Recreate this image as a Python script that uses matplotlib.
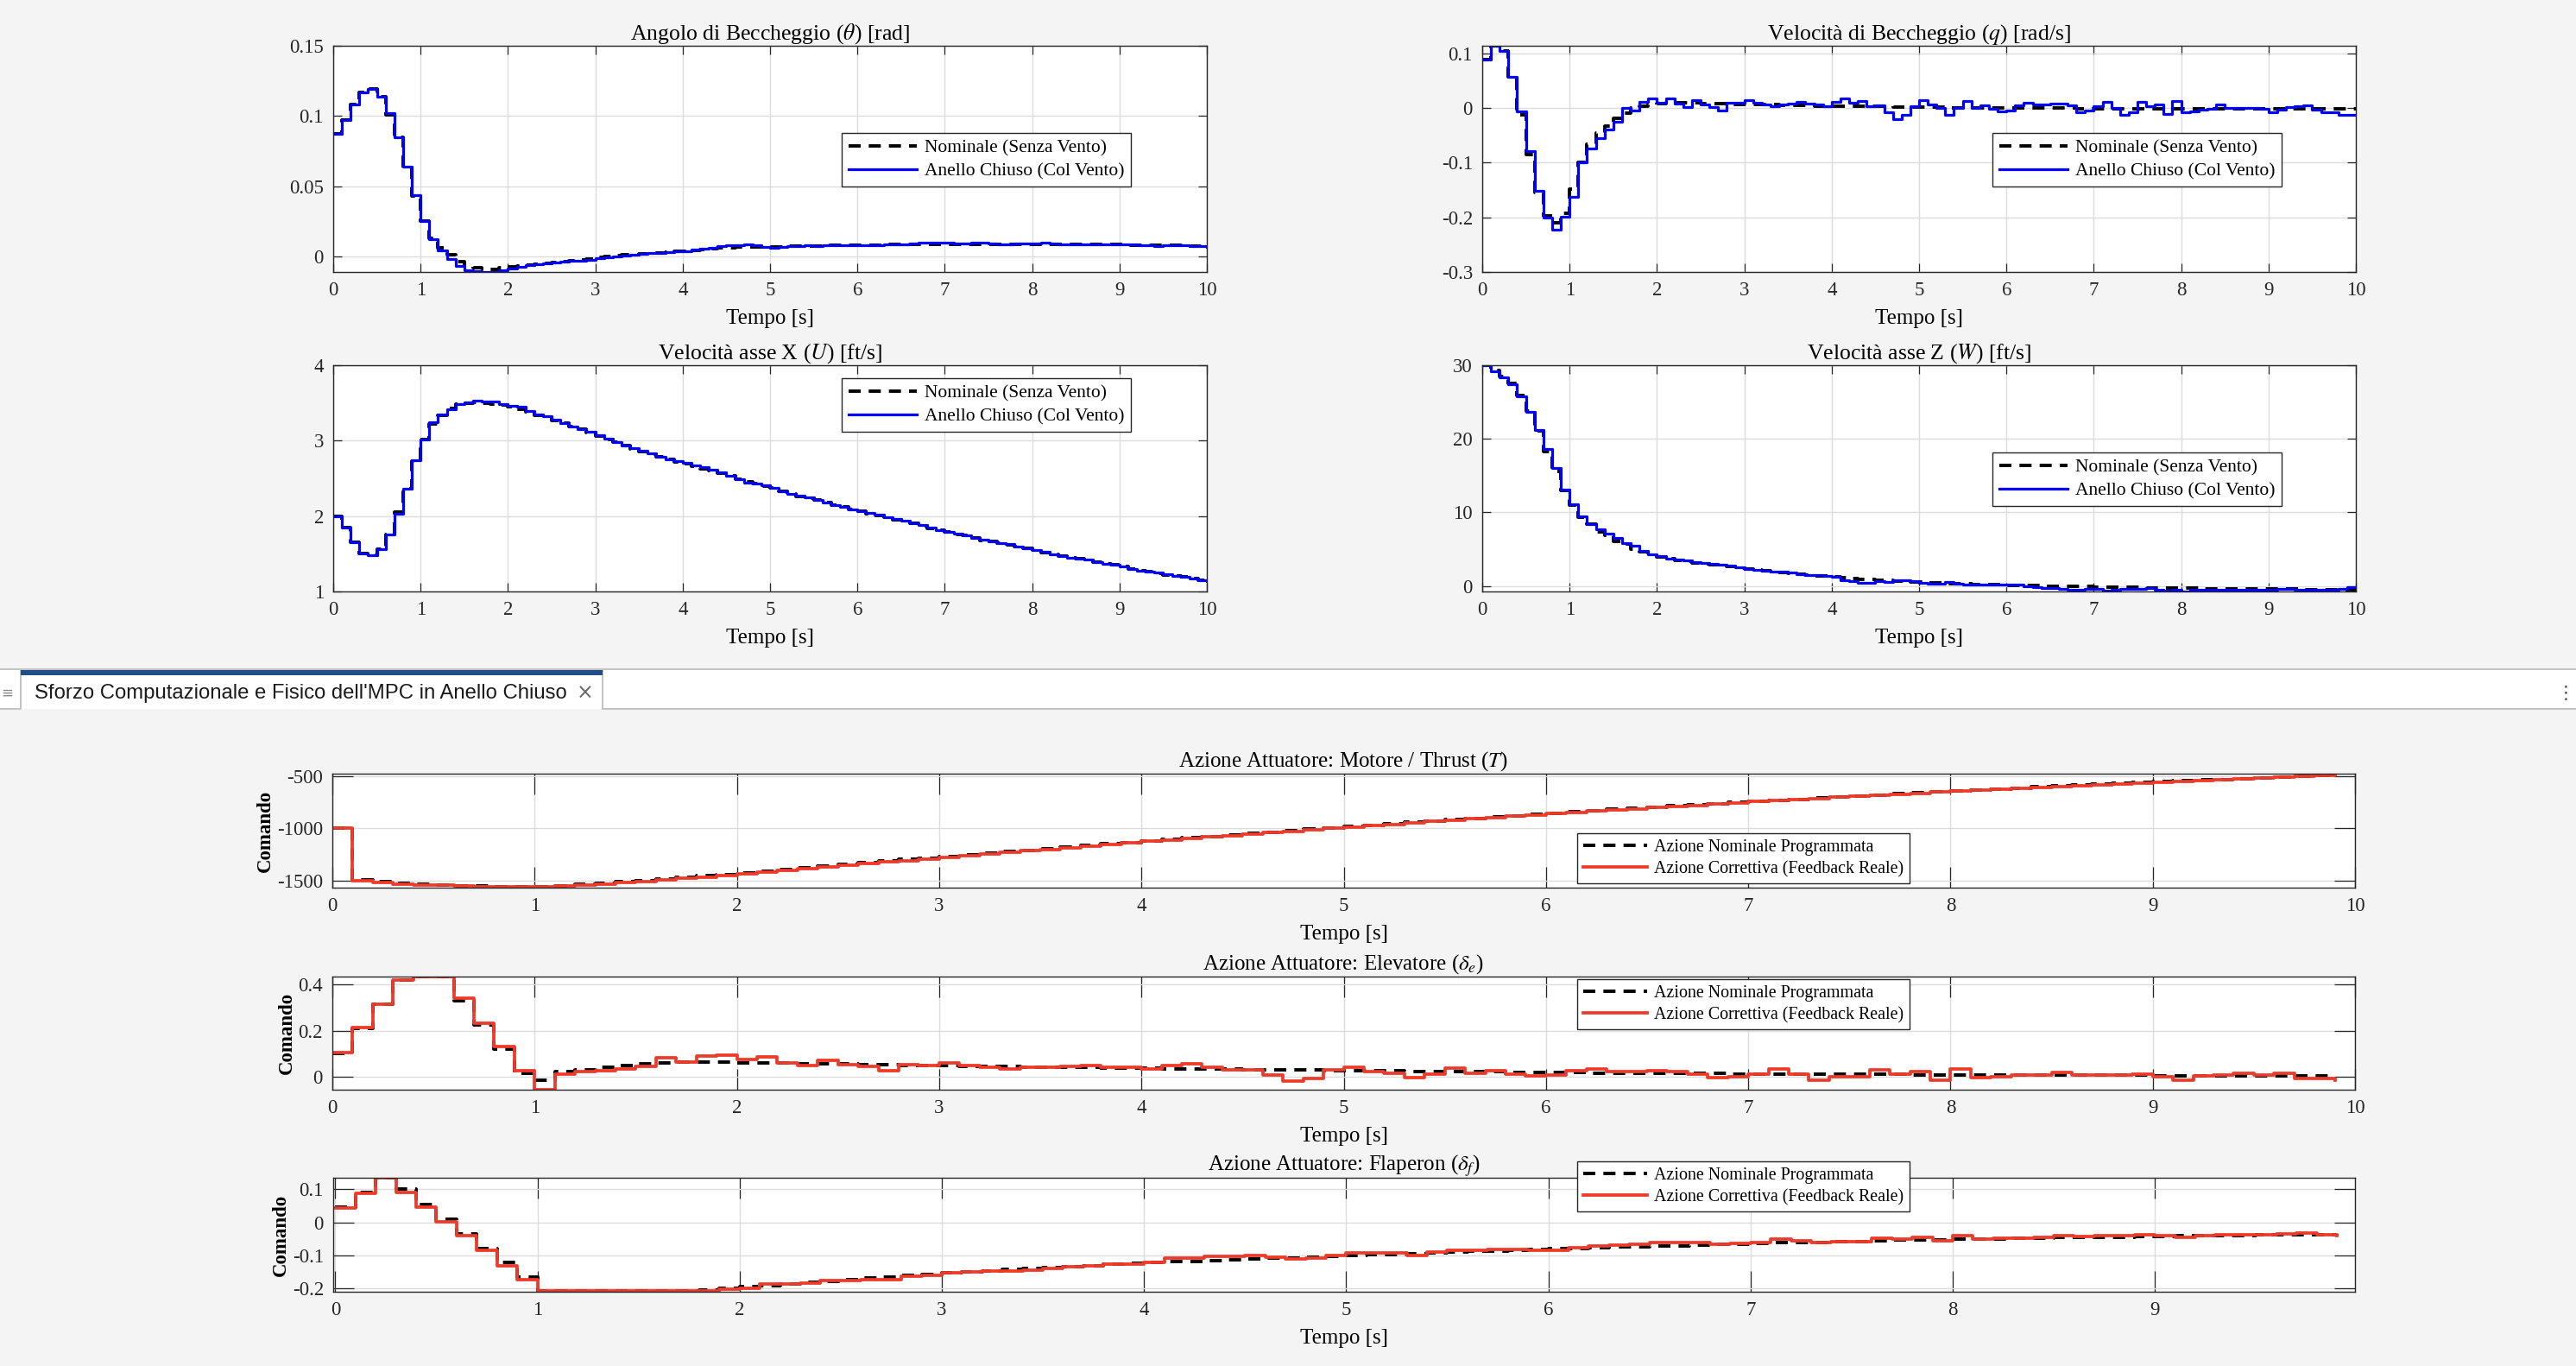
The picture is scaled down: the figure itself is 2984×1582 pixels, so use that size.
import numpy as np
import matplotlib
matplotlib.use('Agg')
import matplotlib.pyplot as plt
from matplotlib.patches import Rectangle
from matplotlib.ticker import FormatStrFormatter

plt.rcParams['font.family'] = ['Liberation Serif', 'DejaVu Serif']
plt.rcParams['mathtext.fontset'] = 'stix'
plt.rcParams['axes.unicode_minus'] = False

# ---------------- dati (campionamento 0.1 s) ----------------
t_state = np.round(np.arange(101) * 0.1, 1)
t_ctrl = t_state[:100]

theta_nom = [0.0875, 0.097, 0.108, 0.117, 0.119, 0.114, 0.101, 0.085, 0.063, 0.043,
             0.0255, 0.013, 0.0065, 0.0015, -0.0035, -0.0068, -0.008, -0.0085, -0.009, -0.008,
             -0.0075, -0.0068, -0.006, -0.0055, -0.0048, -0.0042, -0.0036, -0.003, -0.0024, -0.0018,
             -0.0008, -0.0002, 0.0004, 0.001, 0.0015, 0.002, 0.0024, 0.0028, 0.0032, 0.0036,
             0.004, 0.0045, 0.005, 0.0055, 0.006, 0.0064, 0.0066, 0.0068, 0.0068, 0.0068,
             0.0068, 0.007, 0.0072, 0.0074, 0.0075, 0.0076, 0.0078, 0.0079, 0.008, 0.008,
             0.0081, 0.0082, 0.0083, 0.0084, 0.0085, 0.0086, 0.0087, 0.0088, 0.0088, 0.0088,
             0.0088, 0.0088, 0.0088, 0.0088, 0.0088, 0.0088, 0.0088, 0.0088, 0.0088, 0.0088,
             0.0088, 0.0088, 0.0088, 0.0088, 0.0087, 0.0087, 0.0086, 0.0086, 0.0085, 0.0085,
             0.0084, 0.0083, 0.0082, 0.0081, 0.008, 0.0079, 0.0078, 0.0077, 0.0076, 0.0075,
             0.0074]
theta_cl = [0.0875, 0.097, 0.108, 0.117, 0.119, 0.114, 0.102, 0.085, 0.064, 0.0435,
            0.0255, 0.0125, 0.0045, -0.0015, -0.0065, -0.0095, -0.0105, -0.0108, -0.0108, -0.0098,
            -0.0085, -0.0075, -0.0062, -0.0055, -0.0048, -0.0042, -0.0038, -0.0032, -0.0028, -0.0025,
            -0.0012, -0.0005, 0.0002, 0.0008, 0.0012, 0.0018, 0.0023, 0.0028, 0.0032, 0.0036,
            0.004, 0.0048, 0.0055, 0.0063, 0.0072, 0.0078, 0.0082, 0.0085, 0.008, 0.0068,
            0.0062, 0.007, 0.0075, 0.0076, 0.0078, 0.0074, 0.0078, 0.008, 0.0082, 0.0082,
            0.008, 0.0078, 0.0082, 0.0084, 0.0086, 0.0088, 0.0092, 0.0096, 0.01, 0.0102,
            0.0098, 0.0092, 0.0095, 0.01, 0.0098, 0.009, 0.0088, 0.0086, 0.009, 0.0094,
            0.0094, 0.0098, 0.0094, 0.0088, 0.0086, 0.0086, 0.0088, 0.0086, 0.0084, 0.0086,
            0.0084, 0.0086, 0.0082, 0.0078, 0.0076, 0.0078, 0.0078, 0.008, 0.0076, 0.0072,
            0.007]

q_nom = [0.088, 0.114, 0.104, 0.057, -0.012, -0.085, -0.155, -0.198, -0.21, -0.192,
         -0.148, -0.1, -0.066, -0.045, -0.033, -0.018, -0.01, 0.0, 0.003, 0.006,
         0.008, 0.009, 0.009, 0.009, 0.009, 0.008, 0.008, 0.008, 0.007, 0.007,
         0.007, 0.006, 0.006, 0.006, 0.005, 0.005, 0.005, 0.005, 0.004, 0.004,
         0.004, 0.004, 0.003, 0.003, 0.003, 0.003, 0.003, 0.002, 0.002, 0.002,
         0.002, 0.002, 0.002, 0.001, 0.001, 0.001, 0.001, 0.001, 0.001, 0.0,
         0.0, 0.0, 0.0, 0.0, 0.0, 0.0, 0.0, 0.0, -0.001, -0.001,
         -0.001, -0.001, -0.001, -0.001, -0.001, -0.001, -0.001, -0.001, -0.001, -0.001,
         -0.001, -0.001, -0.001, -0.001, -0.001, -0.001, -0.001, -0.001, -0.001, -0.001,
         -0.001, -0.001, -0.001, -0.001, -0.001, -0.001, -0.001, -0.001, -0.001, -0.001,
         -0.001]
q_cl = [0.088, 0.114, 0.104, 0.057, -0.006, -0.079, -0.151, -0.201, -0.222, -0.199,
        -0.162, -0.099, -0.074, -0.055, -0.04, -0.025, -0.0005, -0.004, 0.012, 0.017,
        0.0105, 0.018, 0.008, 0.002, 0.014, 0.006, 0.002, -0.005, 0.009, 0.009,
        0.014, 0.009, 0.006, 0.003, 0.006, 0.008, 0.011, 0.008, 0.006, 0.003,
        0.0115, 0.017, 0.01, 0.013, 0.004, 0.005, -0.008, -0.021, -0.013, 0.004,
        0.014, 0.006, 0.001, -0.013, 0.001, 0.0126, -0.0005, 0.005, -0.002, -0.006,
        -0.004, 0.005, 0.01, 0.006, 0.006, 0.008, 0.008, 0.005, -0.008, -0.004,
        0.003, 0.0115, -0.0005, -0.012, -0.008, 0.011, 0.003, 0.007, -0.011, 0.013,
        -0.007, -0.006, -0.003, -0.0015, 0.006, -0.0005, -0.0005, 0.0005, 0.001, -0.0015,
        -0.008, -0.0025, 0.0015, 0.003, 0.005, -0.0025, -0.007, -0.007, -0.012, -0.013,
        -0.013]

u_nom = [2.0, 1.85, 1.656, 1.507, 1.477, 1.56, 1.76, 2.05, 2.36, 2.73,
         3.01, 3.22, 3.34, 3.43, 3.48, 3.50, 3.51, 3.50, 3.49, 3.47,
         3.45, 3.42, 3.38, 3.34, 3.31, 3.27, 3.23, 3.19, 3.15, 3.11,
         3.06, 3.02, 2.98, 2.93, 2.89, 2.86, 2.82, 2.79, 2.75, 2.72,
         2.69, 2.66, 2.63, 2.60, 2.57, 2.53, 2.49, 2.45, 2.43, 2.40,
         2.37, 2.33, 2.29, 2.26, 2.24, 2.21, 2.18, 2.15, 2.12, 2.09,
         2.06, 2.03, 2.01, 1.98, 1.95, 1.93, 1.90, 1.87, 1.84, 1.81,
         1.79, 1.76, 1.74, 1.71, 1.68, 1.66, 1.64, 1.62, 1.60, 1.57,
         1.55, 1.52, 1.49, 1.47, 1.45, 1.43, 1.41, 1.39, 1.37, 1.35,
         1.33, 1.30, 1.28, 1.26, 1.24, 1.22, 1.21, 1.19, 1.17, 1.15,
         1.13]
u_cl = [2.0, 1.85, 1.656, 1.507, 1.477, 1.56, 1.75, 2.025, 2.36, 2.735,
        3.02, 3.24, 3.345, 3.42, 3.48, 3.505, 3.53, 3.516, 3.516, 3.486,
        3.467, 3.448, 3.39, 3.352, 3.326, 3.276, 3.23, 3.19, 3.154, 3.124,
        3.078, 3.028, 2.98, 2.937, 2.898, 2.868, 2.83, 2.79, 2.757, 2.727,
        2.708, 2.677, 2.647, 2.609, 2.575, 2.533, 2.487, 2.44, 2.43, 2.41,
        2.372, 2.327, 2.296, 2.266, 2.25, 2.212, 2.182, 2.15, 2.117, 2.087,
        2.064, 2.04, 2.018, 1.987, 1.96, 1.934, 1.907, 1.877, 1.843, 1.816,
        1.793, 1.766, 1.743, 1.713, 1.686, 1.66, 1.644, 1.629, 1.6, 1.568,
        1.553, 1.522, 1.492, 1.469, 1.45, 1.438, 1.42, 1.393, 1.37, 1.35,
        1.33, 1.3, 1.278, 1.263, 1.248, 1.225, 1.21, 1.19, 1.17, 1.145,
        1.133]

w_nom = [30.0, 29.3, 28.5, 27.5, 25.9, 23.8, 21.1, 18.3, 15.6, 13.0,
         11.0, 9.4, 8.4, 7.4, 6.9, 6.0, 5.7, 5.0, 4.6, 4.2,
         3.9, 3.7, 3.5, 3.3, 3.15, 3.0, 2.9, 2.75, 2.6, 2.45,
         2.3, 2.15, 2.05, 1.95, 1.85, 1.72, 1.62, 1.52, 1.42, 1.33,
         1.22, 1.12, 1.02, 0.93, 0.85, 0.78, 0.72, 0.66, 0.6, 0.55,
         0.5, 0.45, 0.4, 0.36, 0.32, 0.28, 0.24, 0.2, 0.17, 0.14,
         0.11, 0.08, 0.05, 0.02, 0.0, -0.02, -0.04, -0.06, -0.08, -0.1,
         -0.12, -0.14, -0.16, -0.18, -0.2, -0.22, -0.24, -0.26, -0.28, -0.3,
         -0.32, -0.33, -0.34, -0.35, -0.36, -0.37, -0.38, -0.39, -0.4, -0.41,
         -0.42, -0.43, -0.44, -0.45, -0.46, -0.47, -0.48, -0.49, -0.5, -0.5,
         -0.5]
w_cl = [30.0, 29.2, 28.4, 27.4, 25.75, 23.7, 21.25, 18.6, 16.0, 13.15,
        11.1, 9.43, 8.45, 7.67, 7.08, 6.5, 5.8, 5.52, 4.81, 4.34,
        4.07, 3.76, 3.56, 3.44, 3.29, 3.09, 2.97, 2.9, 2.78, 2.58,
        2.35, 2.19, 2.11, 2.0, 1.92, 1.8, 1.64, 1.53, 1.45, 1.33,
        1.21, 0.82, 0.7, 0.43, 0.43, 0.63, 0.55, 0.82, 0.82, 0.63,
        0.43, 0.31, 0.35, 0.51, 0.31, 0.16, 0.23, 0.23, 0.16, 0.16,
        0.23, 0.16, -0.08, -0.16, -0.23, -0.31, -0.43, -0.51, -0.47, -0.39,
        -0.39, -0.63, -0.55, -0.39, -0.39, -0.39, -0.31, -0.51, -0.63, -0.47,
        -0.7, -0.47, -0.47, -0.47, -0.47, -0.47, -0.51, -0.51, -0.51, -0.47,
        -0.47, -0.39, -0.39, -0.47, -0.47, -0.51, -0.51, -0.51, -0.35, -0.12,
        -0.12]

thrust_nom = [-1000, -1495, -1515, -1530, -1540, -1547, -1552, -1556, -1559, -1560,
              -1558, -1550, -1540, -1528, -1515, -1501, -1487, -1472, -1457, -1442,
              -1426, -1410, -1394, -1378, -1363, -1347, -1331, -1316, -1300, -1285,
              -1270, -1255, -1240, -1225, -1210, -1195, -1180, -1165, -1150, -1135,
              -1120, -1105, -1091, -1077, -1063, -1049, -1035, -1022, -1008, -995,
              -982, -969, -956, -943, -930, -917, -904, -891, -878, -866,
              -854, -842, -831, -819, -808, -797, -785, -774, -763, -752,
              -741, -731, -721, -710, -700, -690, -680, -669, -659, -649,
              -639, -630, -621, -612, -603, -595, -586, -578, -569, -561,
              -553, -545, -537, -529, -521, -514, -506, -498, -491, -484]
thrust_cl = [-1000, -1500, -1522, -1535, -1542, -1548, -1553, -1558, -1561, -1562,
             -1561, -1555, -1546, -1535, -1523, -1510, -1496, -1482, -1467, -1452,
             -1436, -1420, -1404, -1388, -1372, -1357, -1341, -1325, -1309, -1294,
             -1278, -1263, -1248, -1232, -1217, -1202, -1187, -1172, -1156, -1141,
             -1126, -1112, -1098, -1084, -1070, -1056, -1042, -1029, -1015, -1001,
             -987, -974, -961, -948, -935, -922, -909, -896, -883, -870,
             -857, -846, -835, -823, -812, -801, -789, -778, -767, -755,
             -744, -734, -724, -713, -703, -693, -683, -672, -662, -652,
             -641, -632, -624, -615, -607, -598, -589, -581, -572, -564,
             -555, -547, -539, -531, -523, -516, -508, -500, -493, -486]

elev_nom = [0.1, 0.21, 0.315, 0.42, 0.435, 0.435, 0.33, 0.225, 0.12, 0.015,
            -0.015, 0.02, 0.03, 0.04, 0.05, 0.056, 0.06, 0.062, 0.063, 0.062,
            0.061, 0.06, 0.058, 0.057, 0.055, 0.054, 0.052, 0.051, 0.049, 0.048,
            0.047, 0.045, 0.044, 0.043, 0.042, 0.041, 0.04, 0.039, 0.038, 0.037,
            0.036, 0.035, 0.034, 0.033, 0.032, 0.031, 0.03, 0.029, 0.028, 0.027,
            0.026, 0.025, 0.024, 0.023, 0.022, 0.021, 0.021, 0.02, 0.019, 0.018,
            0.018, 0.017, 0.016, 0.016, 0.015, 0.014, 0.014, 0.013, 0.013, 0.012,
            0.012, 0.011, 0.011, 0.01, 0.01, 0.009, 0.009, 0.009, 0.008, 0.008,
            0.008, 0.007, 0.007, 0.007, 0.006, 0.006, 0.006, 0.005, 0.005, 0.005,
            0.004, 0.004, 0.004, 0.003, 0.003, 0.003, 0.002, 0.002, 0.002, 0.002]
elev_cl = [0.103, 0.213, 0.315, 0.421, 0.435, 0.435, 0.34, 0.234, 0.13, 0.024,
           -0.057, 0.011, 0.02, 0.026, 0.032, 0.045, 0.081, 0.064, 0.0885, 0.092,
           0.0736, 0.085, 0.06, 0.049, 0.071, 0.051, 0.045, 0.026, 0.051, 0.049,
           0.061, 0.047, 0.042, 0.035, 0.041, 0.042, 0.045, 0.049, 0.041, 0.039,
           0.035, 0.049, 0.055, 0.039, 0.03, 0.03, 0.0075, -0.021, -0.009, 0.03,
           0.042, 0.022, 0.016, -0.005, 0.011, 0.036, 0.014, 0.024, 0.011, 0.004,
           0.0075, 0.024, 0.032, 0.022, 0.02, 0.024, 0.02, 0.011, -0.005, 0.001,
           0.01, 0.032, 0.011, -0.015, -0.001, -0.001, 0.029, 0.011, 0.02, -0.014,
           0.032, -0.005, 0.001, 0.005, 0.0075, 0.017, 0.0075, 0.0075, 0.0075, 0.01,
           -0.001, -0.014, 0.004, 0.0075, 0.014, 0.0075, 0.014, -0.009, -0.009, -0.015]

flap_nom = [0.045, 0.09, 0.135, 0.1, 0.055, 0.01, -0.035, -0.078, -0.12, -0.165,
            -0.208, -0.208, -0.208, -0.208, -0.208, -0.208, -0.208, -0.208, -0.205, -0.2,
            -0.195, -0.19, -0.186, -0.181, -0.177, -0.172, -0.169, -0.165, -0.161, -0.156,
            -0.153, -0.149, -0.146, -0.142, -0.139, -0.136, -0.133, -0.13, -0.127, -0.124,
            -0.121, -0.119, -0.117, -0.115, -0.113, -0.111, -0.109, -0.107, -0.105, -0.102,
            -0.1, -0.098, -0.096, -0.094, -0.092, -0.09, -0.088, -0.086, -0.084, -0.082,
            -0.08, -0.078, -0.076, -0.075, -0.073, -0.072, -0.07, -0.068, -0.067, -0.065,
            -0.064, -0.062, -0.061, -0.06, -0.058, -0.057, -0.056, -0.054, -0.053, -0.052,
            -0.051, -0.05, -0.049, -0.048, -0.047, -0.046, -0.045, -0.044, -0.044, -0.043,
            -0.042, -0.041, -0.041, -0.04, -0.039, -0.038, -0.038, -0.037, -0.036, -0.035]
flap_cl = [0.043, 0.089, 0.134, 0.091, 0.047, 0.0026, -0.041, -0.084, -0.13, -0.172,
           -0.208, -0.208, -0.208, -0.208, -0.208, -0.208, -0.208, -0.208, -0.208, -0.202,
           -0.198, -0.185, -0.185, -0.183, -0.175, -0.175, -0.174, -0.172, -0.163, -0.159,
           -0.152, -0.15, -0.148, -0.146, -0.143, -0.14, -0.135, -0.13, -0.127, -0.126,
           -0.12, -0.109, -0.107, -0.103, -0.103, -0.1, -0.105, -0.111, -0.109, -0.099,
           -0.092, -0.092, -0.092, -0.099, -0.09, -0.084, -0.084, -0.081, -0.081, -0.083,
           -0.083, -0.077, -0.071, -0.068, -0.066, -0.062, -0.061, -0.06, -0.066, -0.064,
           -0.061, -0.051, -0.055, -0.061, -0.058, -0.058, -0.048, -0.051, -0.045, -0.055,
           -0.041, -0.051, -0.048, -0.047, -0.045, -0.041, -0.042, -0.041, -0.04, -0.038,
           -0.04, -0.045, -0.04, -0.038, -0.036, -0.036, -0.034, -0.031, -0.038, -0.04]

state_titles = ['Angolo di Beccheggio ($\\theta$) [rad]',
                'Velocità di Beccheggio ($q$) [rad/s]',
                'Velocità asse X ($U$) [ft/s]',
                'Velocità asse Z ($W$) [ft/s]']
ctrl_titles = ['Azione Attuatore: Motore / Thrust ($T$)',
               'Azione Attuatore: Elevatore ($\\delta_e$)',
               'Azione Attuatore: Flaperon ($\\delta_f$)']
state_labels = ['Nominale (Senza Vento)', 'Anello Chiuso (Col Vento)']
ctrl_labels = ['Azione Nominale Programmata', 'Azione Correttiva (Feedback Reale)']
tab_title = "Sforzo Computazionale e Fisico dell'MPC in Anello Chiuso"

# ---------------- figura ----------------
W, H = 2984, 1582
BG = '#f4f4f4'
DARK = '#262626'
fig = plt.figure(figsize=(W / 100, H / 100), dpi=100, facecolor=BG)


def px_box(l, t, r, b):
    return [l / W, 1 - b / H, (r - l) / W, (b - t) / H]


def style_axes(ax, tick_len):
    ax.set_facecolor('white')
    ax.set_axisbelow(True)
    ax.grid(True, color='#dcdcdc', linewidth=1.0)
    ax.tick_params(direction='in', top=True, right=True, length=tick_len, width=0.9,
                   colors=DARK, labelsize=16.5, pad=8)
    for s in ax.spines.values():
        s.set_color(DARK)
        s.set_linewidth(1.0)
    ax.yaxis.set_major_formatter(FormatStrFormatter('%g'))


def add_legend(ax, x, y, size):
    leg = ax.legend(loc='upper left', bbox_to_anchor=(x / W, 1 - y / H),
                    bbox_transform=fig.transFigure, borderaxespad=0, fontsize=size,
                    fancybox=False, framealpha=1, edgecolor=DARK, handlelength=3.7,
                    handletextpad=0.4, borderpad=0.35, labelspacing=0.3)
    leg.get_frame().set_linewidth(1.0)


dash = (0, (3.6, 2.4))

# pannelli degli stati
state_boxes = [(386, 53, 1398, 315), (1717, 53, 2729, 315),
               (386, 423, 1398, 685), (1717, 423, 2729, 685)]
state_nom = [theta_nom, q_nom, u_nom, w_nom]
state_cl = [theta_cl, q_cl, u_cl, w_cl]
state_ylim = [(-0.011, 0.15), (-0.3, 0.114), (1, 4), (-0.75, 30)]
state_yticks = [[0, 0.05, 0.1, 0.15], [-0.3, -0.2, -0.1, 0, 0.1], [1, 2, 3, 4], [0, 10, 20, 30]]
state_leg = [(975, 154), (2308, 154), (975, 438), (2308, 524)]

for i in range(4):
    ax = fig.add_axes(px_box(*state_boxes[i]))
    style_axes(ax, 7)
    ax.step(t_state, state_nom[i], where='post', color='black', linewidth=2.8,
            linestyle=dash, label=state_labels[0])
    ax.step(t_state, state_cl[i], where='post', color='#0000ff', linewidth=2.3,
            label=state_labels[1])
    ax.set_xlim(0, 10)
    ax.set_ylim(*state_ylim[i])
    ax.set_xticks(range(11))
    ax.set_yticks(state_yticks[i])
    ax.set_title(state_titles[i], fontsize=18.5, color='black', pad=5)
    ax.set_xlabel('Tempo [s]', fontsize=18, color='black', labelpad=8)
    add_legend(ax, *state_leg[i], 15.5)

# barra della scheda
def prect(x0, y0, x1, y1, color):
    fig.patches.append(Rectangle((x0 / W, 1 - y1 / H), (x1 - x0) / W, (y1 - y0) / H,
                                 transform=fig.transFigure, facecolor=color,
                                 edgecolor='none', zorder=0))


prect(0, 774, W, 776, '#c4c4c4')
prect(0, 776, W, 821, 'white')
prect(0, 820, 24, 822, '#c4c4c4')
prect(698, 820, W, 822, '#c4c4c4')
prect(23, 776, 25, 822, '#c4c4c4')
prect(697, 776, 699, 822, '#c4c4c4')
prect(24, 776, 698, 782, '#234d86')
fig.text(40 / W, 1 - 803 / H, tab_title, fontsize=17.2, color='#1a1a1a',
         family=['Liberation Sans', 'DejaVu Sans'], va='center', ha='left')
fig.text(678 / W, 1 - 803 / H, '×', fontsize=17, color='#6a6a6a',
         family=['DejaVu Sans'], va='center', ha='center')
fig.text(8 / W, 1 - 803 / H, '≡', fontsize=12, color='#8a8a8a',
         family=['DejaVu Sans'], va='center', ha='center')
fig.text(2972 / W, 1 - 803 / H, '⋮', fontsize=15, color='#444444',
         family=['DejaVu Sans'], va='center', ha='center')

# pannelli dei comandi
ctrl_boxes = [(385, 896, 2728, 1028), (385, 1131, 2728, 1262), (386, 1364, 2728, 1496)]
ctrl_nom = [thrust_nom, elev_nom, flap_nom]
ctrl_cl = [thrust_cl, elev_cl, flap_cl]
ctrl_ylim = [(-1570, -475), (-0.057, 0.435), (-0.2095, 0.135)]
ctrl_yticks = [[-1500, -1000, -500], [0, 0.2, 0.4], [-0.2, -0.1, 0, 0.1]]
ctrl_xlim = [(0, 10), (0, 10), (-0.01, 9.99)]
ctrl_xticks = [range(11), range(11), range(10)]
ctrl_leg = [(1827, 965), (1827, 1134), (1827, 1345)]

for i in range(3):
    ax = fig.add_axes(px_box(*ctrl_boxes[i]))
    style_axes(ax, 17)
    ax.step(t_ctrl, ctrl_nom[i], where='post', color='black', linewidth=2.8,
            linestyle=dash, label=ctrl_labels[0])
    ax.step(t_ctrl, ctrl_cl[i], where='post', color='#ec3a2b', linewidth=2.7,
            label=ctrl_labels[1])
    ax.set_xlim(*ctrl_xlim[i])
    ax.set_ylim(*ctrl_ylim[i])
    ax.set_xticks(list(ctrl_xticks[i]))
    ax.set_yticks(ctrl_yticks[i])
    ax.set_title(ctrl_titles[i], fontsize=18, color='black', pad=6)
    ax.set_xlabel('Tempo [s]', fontsize=18, color='black', labelpad=8)
    ax.set_ylabel('Comando', fontsize=16.5, fontweight='bold', color='black', labelpad=2)
    add_legend(ax, *ctrl_leg[i], 14.4)

fig.savefig('out.png', dpi=100, facecolor=BG)
plt.close(fig)
